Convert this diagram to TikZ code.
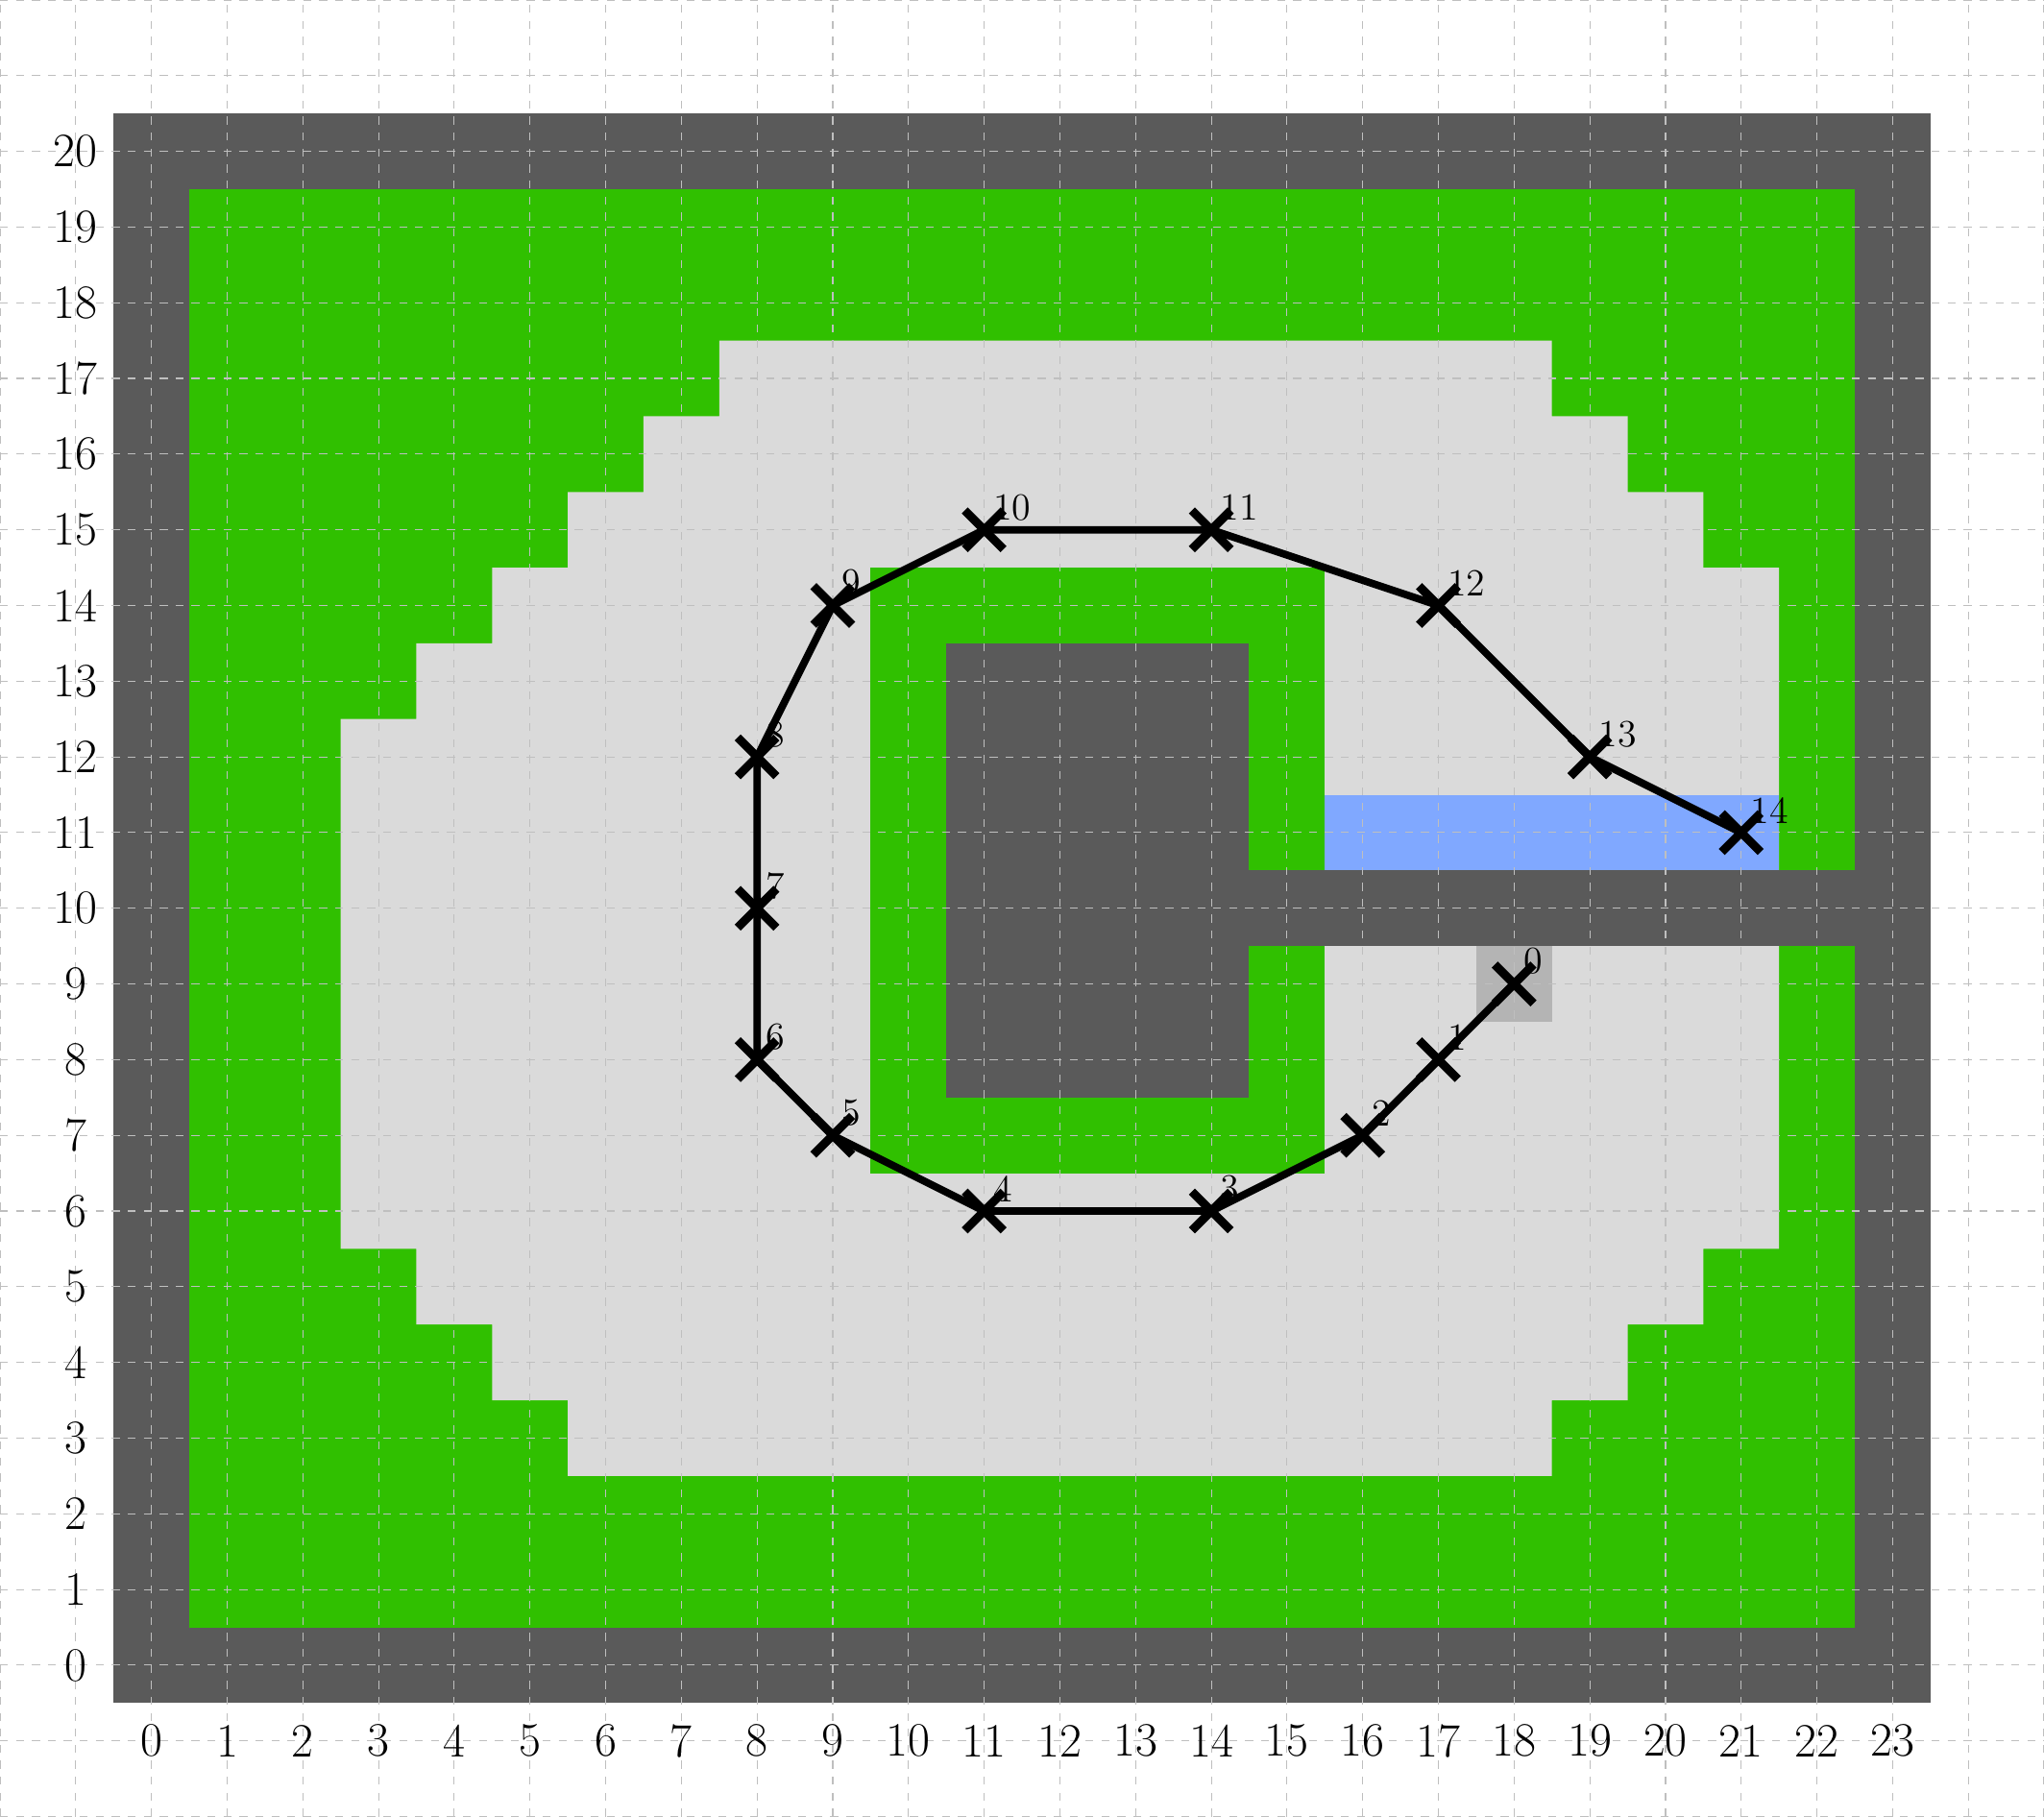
\documentclass[tikz,border=0pt]{standalone}
\usepackage{tikz}
\usetikzlibrary{shapes.misc}
\definecolor{wallgray}{HTML}{5A5A5A}
\definecolor{grassgreen}{HTML}{30C000}
\definecolor{freegray}{HTML}{DADADA}
\definecolor{goalblue}{HTML}{80A8FF}
\definecolor{startgray}{HTML}{B4B4B4}

\begin{document}
\begin{tikzpicture}[
    every node/.style={font=\fontsize{18}{22}\selectfont},
    gridline/.style={dashed, gray!50, line width=0.4pt},
    route/.style={line width=2.8pt, black, line join=round},
    wp/.style={cross out, draw=black, line width=3.2pt, minimum size=0.4cm, inner sep=0pt},
    wplabel/.style={font=\Large, anchor=south west}
]
    \useasboundingbox (-2,-2) rectangle (25,22);
    % map cells
    \fill[wallgray] (-0.5,-0.5) rectangle (23.5,20.5);
    \fill[grassgreen] (0.5,0.5) rectangle (22.5,19.5);
    \fill[freegray] (7.5,17.5) -- (18.5,17.5) -- (18.5,16.5) -- (19.5,16.5)
        -- (19.5,15.5) -- (20.5,15.5) -- (20.5,14.5) -- (21.5,14.5)
        -- (21.5,5.5) -- (20.5,5.5) -- (20.5,4.5) -- (19.5,4.5)
        -- (19.5,3.5) -- (18.5,3.5) -- (18.5,2.5) -- (5.5,2.5)
        -- (5.5,3.5) -- (4.5,3.5) -- (4.5,4.5) -- (3.5,4.5)
        -- (3.5,5.5) -- (2.5,5.5) -- (2.5,12.5) -- (3.5,12.5)
        -- (3.5,13.5) -- (4.5,13.5) -- (4.5,14.5) -- (5.5,14.5)
        -- (5.5,15.5) -- (6.5,15.5) -- (6.5,16.5) -- (7.5,16.5) -- cycle;
    \fill[grassgreen] (9.5,6.5) rectangle (15.5,14.5);
    \fill[wallgray] (10.5,7.5) rectangle (14.5,13.5);
    \fill[wallgray] (14.5,9.5) rectangle (23.5,10.5);
    \fill[goalblue] (15.5,10.5) rectangle (21.5,11.5);
    \fill[startgray] (17.5,8.5) rectangle (18.5,9.5);
    % grid and axis numbers
    \draw[gridline] (-2,-2) grid (25,22);
    \foreach \x in {0,...,23} \node (xl\x) at (\x,-1) {\x};
    \foreach \y in {0,...,20} \node (yl\y) at (-1,\y) {\y};
    % waypoints
    \foreach \i/\x/\y in {0/18/9, 1/17/8, 2/16/7, 3/14/6, 4/11/6, 5/9/7,
        6/8/8, 7/8/10, 8/8/12, 9/9/14, 10/11/15, 11/14/15, 12/17/14,
        13/19/12, 14/21/11} {
        \node[wp] (w\i) at (\x,\y) {};
        \node[wplabel] (l\i) at (w\i.center) {\i};
    }
    \draw[route] (w0.center) \foreach \i in {1,...,14} {-- (w\i.center)};
\end{tikzpicture}
\end{document}
